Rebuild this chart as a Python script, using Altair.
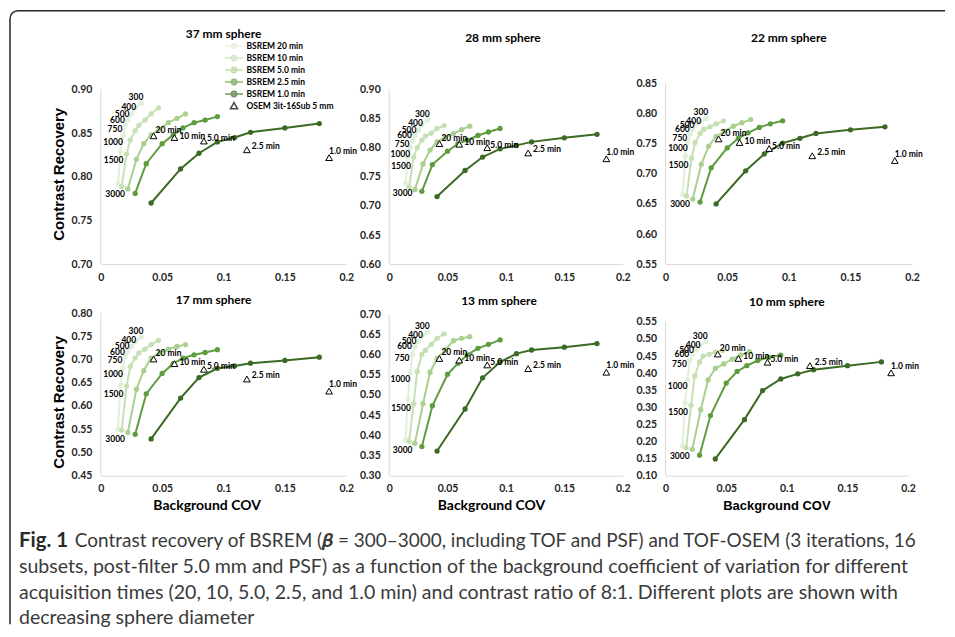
import altair as alt
import pandas as pd

# ---------------- data ----------------
SERIES = ["BSREM 20 min", "BSREM 10 min", "BSREM 5.0 min", "BSREM 2.5 min", "BSREM 1.0 min"]
OSEM_NAME = "OSEM 3it-16Sub 5 mm"
BETAS = ["300", "400", "500", "600", "750", "1000", "1500", "3000"]
OSEM_TIMES = ["20 min", "10 min", "5.0 min", "2.5 min", "1.0 min"]
X_TICKS = [0, 0.05, 0.1, 0.15, 0.2]

# background COV (beta 300 ... 3000)
COV_20 = [0.033, 0.028, 0.025, 0.022, 0.020, 0.018, 0.016, 0.014]
COV_10 = [0.047, 0.041, 0.036, 0.031, 0.028, 0.024, 0.021, 0.017]
COV_5 = [0.069, 0.062, 0.055, 0.048, 0.041, 0.035, 0.029, 0.022]
COV_25 = [0.095, 0.085, 0.076, 0.067, 0.059, 0.050, 0.037, 0.028]
COV_1 = [0.178, 0.150, 0.122, 0.109, 0.095, 0.080, 0.065, 0.041]
OSEM_COV = [0.043, 0.060, 0.084, 0.119, 0.186]

# contrast recovery, 37 mm
CR37_20 = [0.884, 0.879, 0.872, 0.865, 0.859, 0.847, 0.829, 0.792]
CR37_10 = [0.879, 0.872, 0.865, 0.859, 0.853, 0.842, 0.826, 0.789]
CR37_5 = [0.872, 0.867, 0.862, 0.855, 0.848, 0.838, 0.820, 0.786]
CR37_25 = [0.869, 0.865, 0.862, 0.856, 0.848, 0.838, 0.815, 0.781]
CR37_1 = [0.861, 0.856, 0.851, 0.845, 0.840, 0.827, 0.809, 0.770]
OSEM37 = [0.847, 0.845, 0.841, 0.831, 0.822]
# 28 mm
CR28_20 = [0.848, 0.840, 0.830, 0.821, 0.813, 0.800, 0.784, 0.739]
CR28_10 = [0.838, 0.833, 0.825, 0.820, 0.813, 0.800, 0.784, 0.732]
CR28_5 = [0.837, 0.831, 0.824, 0.818, 0.810, 0.796, 0.772, 0.728]
CR28_25 = [0.833, 0.827, 0.821, 0.813, 0.807, 0.794, 0.771, 0.725]
CR28_1 = [0.823, 0.817, 0.810, 0.804, 0.798, 0.784, 0.761, 0.716]
OSEM28 = [0.807, 0.806, 0.800, 0.791, 0.781]
# 22 mm
CR22_20 = [0.792, 0.786, 0.781, 0.774, 0.766, 0.752, 0.729, 0.666]
CR22_10 = [0.788, 0.783, 0.778, 0.774, 0.767, 0.752, 0.726, 0.663]
CR22_5 = [0.790, 0.785, 0.779, 0.771, 0.762, 0.746, 0.716, 0.658]
CR22_25 = [0.788, 0.783, 0.777, 0.768, 0.759, 0.743, 0.710, 0.653]
CR22_1 = [0.778, 0.773, 0.767, 0.759, 0.751, 0.733, 0.705, 0.650]
OSEM22 = [0.758, 0.752, 0.742, 0.730, 0.722]
# 17 mm
CR17_20 = [0.748, 0.739, 0.728, 0.717, 0.707, 0.681, 0.645, 0.550]
CR17_10 = [0.741, 0.732, 0.722, 0.714, 0.703, 0.685, 0.643, 0.548]
CR17_5 = [0.732, 0.728, 0.722, 0.714, 0.703, 0.676, 0.636, 0.543]
CR17_25 = [0.721, 0.715, 0.710, 0.703, 0.691, 0.670, 0.626, 0.539]
CR17_1 = [0.705, 0.698, 0.692, 0.686, 0.681, 0.661, 0.617, 0.529]
OSEM17 = [0.701, 0.691, 0.679, 0.658, 0.632]
# 13 mm
CR13_20 = [0.655, 0.645, 0.632, 0.620, 0.600, 0.555, 0.490, 0.389]
CR13_10 = [0.651, 0.640, 0.625, 0.610, 0.600, 0.558, 0.478, 0.385]
CR13_5 = [0.644, 0.640, 0.634, 0.611, 0.590, 0.556, 0.478, 0.380]
CR13_25 = [0.636, 0.625, 0.615, 0.599, 0.578, 0.551, 0.473, 0.372]
CR13_1 = [0.627, 0.618, 0.611, 0.602, 0.581, 0.542, 0.465, 0.361]
OSEM13 = [0.590, 0.586, 0.574, 0.565, 0.556]
# 10 mm
CR10_20 = [0.492, 0.480, 0.468, 0.455, 0.438, 0.380, 0.313, 0.187]
CR10_10 = [0.466, 0.462, 0.455, 0.450, 0.432, 0.391, 0.306, 0.182]
CR10_5 = [0.463, 0.453, 0.441, 0.427, 0.414, 0.380, 0.293, 0.177]
CR10_25 = [0.453, 0.446, 0.437, 0.422, 0.405, 0.371, 0.276, 0.160]
CR10_1 = [0.433, 0.422, 0.410, 0.398, 0.383, 0.349, 0.264, 0.149]
OSEM10 = [0.456, 0.443, 0.432, 0.422, 0.401]

Y_TICKS_37 = [0.70, 0.75, 0.80, 0.85, 0.90]
Y_TICKS_28 = [0.60, 0.65, 0.70, 0.75, 0.80, 0.85, 0.90]
Y_TICKS_22 = [0.55, 0.60, 0.65, 0.70, 0.75, 0.80, 0.85]
Y_TICKS_17 = [0.45, 0.50, 0.55, 0.60, 0.65, 0.70, 0.75, 0.80]
Y_TICKS_13 = [0.30, 0.35, 0.40, 0.45, 0.50, 0.55, 0.60, 0.65, 0.70]
Y_TICKS_10 = [0.10, 0.15, 0.20, 0.25, 0.30, 0.35, 0.40, 0.45, 0.50, 0.55]

CAP_BOLD = "Fig. 1"
CAP_L1 = "Contrast recovery of BSREM (\U0001D737 = 300\u20133000, including TOF and PSF) and TOF-OSEM (3 iterations, 16"
CAP_L2 = "subsets, post-filter 5.0 mm and PSF) as a function of the background coefficient of variation for different"
CAP_L3 = "acquisition times (20, 10, 5.0, 2.5, and 1.0 min) and contrast ratio of 8:1. Different plots are shown with"
CAP_L4 = "decreasing sphere diameter"

# ---------------- styles ----------------
GREENS = ["#e2efda", "#c6e0b4", "#a9d08e", "#5f9c3f", "#3b6a25"]
LINE_DOT = "M-2,0H2M0.6,0A0.6,0.6,0,1,1,-0.6,0A0.6,0.6,0,1,1,0.6,0Z"
TRI = "M0,-0.75L0.8,0.65L-0.8,0.65Z"
LABEL_FONT = "Lato"
AXIS_GREY = "#d9d9d9"
BETA_OFF = {"300": (2, -6), "400": (1, -1), "500": (-2, 0), "600": (-3, 0),
            "750": (-3, 4), "1000": (0, 6), "1500": (3, 9), "3000": (7, 10)}
OSEM_OFF = {"20 min": (2, -6), "10 min": (5, -2), "5.0 min": (3, -3),
            "2.5 min": (5, -4), "1.0 min": (0, -7)}

DOMAIN_ALL = SERIES + [OSEM_NAME]
FILL_SCALE = alt.Scale(domain=DOMAIN_ALL, range=GREENS + ["white"])
STROKE_SCALE = alt.Scale(domain=DOMAIN_ALL, range=GREENS + ["black"])
SHAPE_SCALE = alt.Scale(domain=DOMAIN_ALL, range=[LINE_DOT] * 5 + [TRI])
COVS = [COV_20, COV_10, COV_5, COV_25, COV_1]


def panel(title, crs, osem, yticks, ydomain, width, height, t_off, t_dx,
          ytitle=None, xtitle=None, legend=False):
    rows = []
    for name, covs, vals in zip(SERIES, COVS, crs):
        for b, c, r in zip(BETAS, covs, vals):
            rows.append({"series": name, "beta": b, "cov": c, "cr": r})
    df = pd.DataFrame(rows)
    od = pd.DataFrame({"series": OSEM_NAME, "time": OSEM_TIMES, "cov": OSEM_COV, "cr": osem})
    rule_df = pd.DataFrame({"cov": [0], "cr": [yticks[0]], "cr2": [yticks[-1]]})

    xax = dict(values=X_TICKS, format="~g", ticks=False, grid=False, domainColor=AXIS_GREY,
               labelFont=LABEL_FONT, labelFontSize=10.5, labelFontWeight="bold",
               labelColor="#262626", labelPadding=8, labelFlush=False, labelOverlap=False)
    if xtitle:
        xax.update(title="Background COV", titleFont=xtitle[0], titleFontSize=xtitle[1],
                   titleFontWeight="bold", titleColor="black", titleX=xtitle[2], titleY=30,
                   titleAlign="center", titleBaseline="middle", titleAnchor="start")
    else:
        xax.update(title=None)
    yax = dict(values=yticks, format=".2f", ticks=False, grid=False, domain=False,
               labelFont=LABEL_FONT, labelFontSize=10.5, labelFontWeight="bold",
               labelColor="#262626", labelPadding=9, labelFlush=False, labelOverlap=False)
    if ytitle is not None:
        yax.update(title="Contrast Recovery", titleFont="Liberation Sans", titleFontSize=15,
                   titleFontWeight="bold", titleColor="black", titlePadding=5)
        if ytitle:
            yax.update(titleY=ytitle)
    else:
        yax.update(title=None)

    xenc = alt.X("cov:Q", scale=alt.Scale(domain=[0, 0.2], nice=False, zero=False), axis=alt.Axis(**xax))
    yenc = alt.Y("cr:Q", scale=alt.Scale(domain=ydomain, nice=False, zero=False), axis=alt.Axis(**yax))

    if legend:
        leg = alt.Legend(orient="none", legendX=128, legendY=-43, title=None, padding=0,
                         labelFont=LABEL_FONT, labelFontSize=8.5, labelFontWeight="bold",
                         labelColor="black", symbolSize=81, symbolStrokeWidth=1.5,
                         labelOffset=7, rowPadding=-1)
    else:
        leg = None

    layers = []
    layers.append(alt.Chart(rule_df).mark_rule(color=AXIS_GREY, strokeWidth=1).encode(
        x=xenc, y=yenc, y2="cr2:Q"))
    layers.append(alt.Chart(df).mark_line(strokeWidth=2).encode(
        x=xenc, y=yenc, stroke=alt.Stroke("series:N", scale=STROKE_SCALE, legend=leg)))
    layers.append(alt.Chart(df).mark_circle(size=28, opacity=1).encode(
        x=xenc, y=yenc, fill=alt.Fill("series:N", scale=FILL_SCALE, legend=leg)))
    layers.append(alt.Chart(od).mark_point(shape="triangle-up", size=45, filled=True, fill="white",
                                           stroke="black", strokeWidth=1, opacity=1).encode(
        x=xenc, y=yenc))
    d20 = df[df["series"] == SERIES[0]]
    for b in BETAS:
        dx, dy = BETA_OFF[b]
        layers.append(alt.Chart(d20[d20["beta"] == b]).mark_text(
            align="right", baseline="middle", dx=dx, dy=dy, font=LABEL_FONT, fontSize=8.5,
            fontWeight="bold", color="black").encode(x=xenc, y=yenc, text="beta:N"))
    for t in OSEM_TIMES:
        dx, dy = OSEM_OFF[t]
        layers.append(alt.Chart(od[od["time"] == t]).mark_text(
            align="left", baseline="middle", dx=dx, dy=dy, font=LABEL_FONT, fontSize=8.5,
            fontWeight="bold", color="black").encode(x=xenc, y=yenc, text="time:N"))
    if legend:
        ld = pd.DataFrame({"series": DOMAIN_ALL})
        layers.append(alt.Chart(ld).transform_filter("false").mark_point(filled=True).encode(
            fill=alt.Fill("series:N", scale=FILL_SCALE, legend=leg),
            stroke=alt.Stroke("series:N", scale=STROKE_SCALE, legend=leg),
            shape=alt.Shape("series:N", scale=SHAPE_SCALE, legend=leg)))
    return alt.layer(*layers).properties(
        width=width, height=height,
        title=alt.TitleParams(text=title, font=LABEL_FONT, fontSize=12, fontWeight="bold",
                              color="black", offset=t_off, dx=t_dx, anchor="middle", frame="group"))


RES = dict(fill="independent", stroke="independent", shape="independent")

p1 = panel("37 mm sphere", [CR37_20, CR37_10, CR37_5, CR37_25, CR37_1], OSEM37, Y_TICKS_37,
           [0.70, 0.9069], 246, 181, 0, 0, ytitle=0, legend=True)
p2 = panel("28 mm sphere", [CR28_20, CR28_10, CR28_5, CR28_25, CR28_1], OSEM28, Y_TICKS_28,
           [0.60, 0.9103], 234, 181, 39, -3)
p3 = panel("22 mm sphere", [CR22_20, CR22_10, CR22_5, CR22_25, CR22_1], OSEM22, Y_TICKS_22,
           [0.55, 0.85], 247, 181, 34, 0)
p4 = panel("17 mm sphere", [CR17_20, CR17_10, CR17_5, CR17_25, CR17_1], OSEM17, Y_TICKS_17,
           [0.45, 0.80], 246, 163, 1, -10, ytitle=89, xtitle=("Lato", 14, 106))
p5 = panel("13 mm sphere", [CR13_20, CR13_10, CR13_5, CR13_25, CR13_1], OSEM13, Y_TICKS_13,
           [0.30, 0.7025], 234, 163, 1, -7, xtitle=("Lato", 14, 102))
p6 = panel("10 mm sphere", [CR10_20, CR10_10, CR10_5, CR10_25, CR10_1], OSEM10, Y_TICKS_10,
           [0.10, 0.576], 243, 163, 4, 0, xtitle=("Liberation Sans", 13, 111))

# caption block (positions relative to caption view origin)
cap_df = pd.DataFrame({"k": [0]})
cb = alt.Chart(cap_df)
FX, FY, FW, FH = -91, -515, 937, 615
frame = cb.mark_rect(fillOpacity=0, stroke="#262626", strokeWidth=1.5,
                     cornerRadiusTopLeft=8,
                     strokeDash=[FW - 8, FH + FW, 5000, 0]).encode(
    x=alt.value(FX), x2=alt.value(FX + FW), y=alt.value(FY), y2=alt.value(FY + FH))
CAP_FONT = "Lato"
CAP_COLOR = "#3a3a3a"
t_bold = cb.mark_text(align="left", baseline="alphabetic", font=CAP_FONT, fontSize=20.5,
                      fontWeight="bold", color="#2a2a2a", text=CAP_BOLD).encode(
    x=alt.value(-82), y=alt.value(22))
t1 = cb.mark_text(align="left", baseline="alphabetic", font=CAP_FONT, fontSize=19,
                  color=CAP_COLOR, text=CAP_L1).encode(x=alt.value(-26), y=alt.value(22))
t2 = cb.mark_text(align="left", baseline="alphabetic", font=CAP_FONT, fontSize=19.6,
                  color=CAP_COLOR, text=CAP_L2).encode(x=alt.value(-82), y=alt.value(48.5))
t3 = cb.mark_text(align="left", baseline="alphabetic", font=CAP_FONT, fontSize=19.6,
                  color=CAP_COLOR, text=CAP_L3).encode(x=alt.value(-82), y=alt.value(75))
t4 = cb.mark_text(align="left", baseline="alphabetic", font=CAP_FONT, fontSize=19.6,
                  color=CAP_COLOR, text=CAP_L4).encode(x=alt.value(-82), y=alt.value(100))
caption = alt.layer(frame, t_bold, t1, t2, t3, t4).properties(width=246, height=90)

chart = alt.concat(p1, p2, p3, p4, p5, p6, caption, columns=3,
                   spacing={"row": 49, "column": 43}, bounds="flush").resolve_scale(**RES).properties(
    padding=0).configure_view(stroke="transparent")

chart.save("out.html", embed_options={"renderer": "svg", "actions": False})
